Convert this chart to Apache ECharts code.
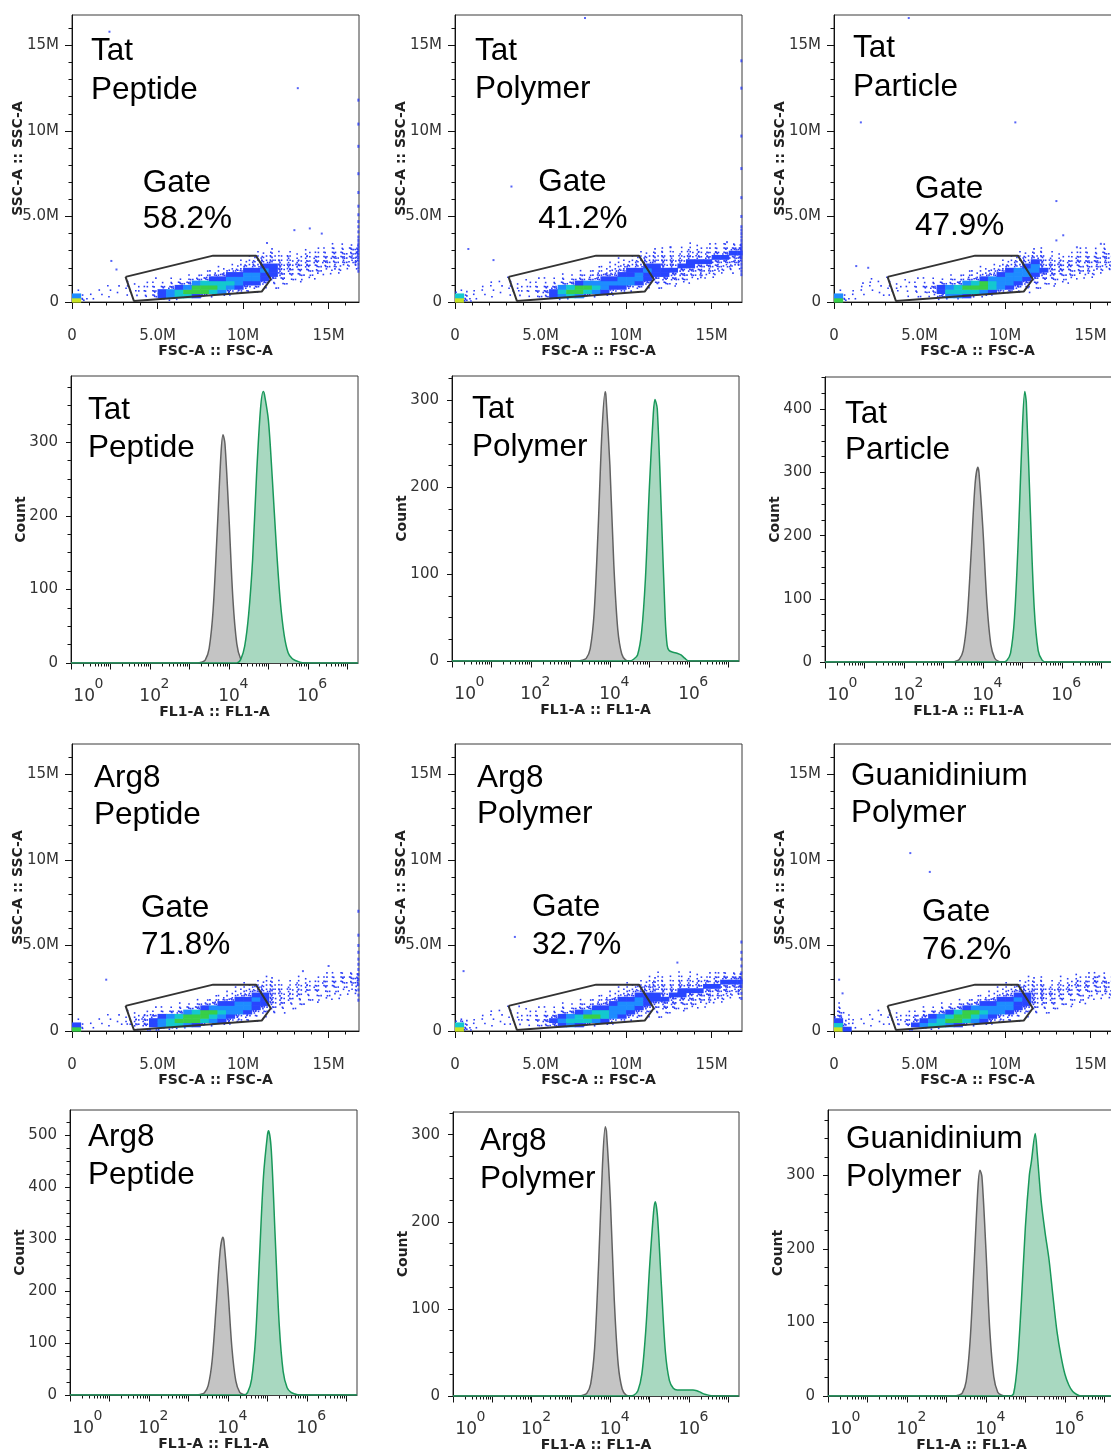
<!DOCTYPE html>
<html><head><meta charset="utf-8">
<script src="https://cdn.jsdelivr.net/npm/echarts@6/dist/echarts.min.js"></script>
<style>html,body{margin:0;padding:0;background:#fff}#c{width:1111px;height:1455px}</style>
</head><body><div id="c"></div>
<script>
// ================= DATA =================
// Scatter density cells: each string is one FSC-A column (0.5M wide, starting at 0),
// each digit is one SSC-A row (0.25M tall, from 0 upward). 0 = empty, 1-4 = sparse dots, 5-9 = dense (blue->yellow)
const densTatPeptide = [
"96100000000000","31000000000000","11000000000000","01100000000000","01110000000000","00110000000000",
"01121000000000","01211000000000","02221000000000","03321100000000","15531000000000","16642100000000",
"17753100000000","07864210000000","05886310000000","04887421000000","02787531000000","01677542100000",
"01467653100000","00356654210000","00245665321000","00135665432100","00024556543100","00012455543210",
"00012344432100","00001234433100","00001233432100","00000123433210","00000123343210","00000012343210",
"00000012334321","00000012234321","00000001234331","00000001233431"];
const densTatPolymer = [
"97200000000000","42100000000000","11100000000000","01110000000000","01111000000000","00111000000000",
"01121100000000","01221000000000","01221100000000","02321100000000","03431100000000","05542100000000",
"16763210000000","17874210000000","06885321000000","04786321000000","02676432100000","01566542100000",
"01356543210000","00256654321000","00146655321000","00035665432100","00024556543100","00013455543210",
"00013455443210","00012445443210","00001344543210","00001234554321","00000234454321","00000123454321",
"00000123445421","00000012345432","00000012344542","00000001234542"];
const densTatParticle = [
"86100000000000","31000000000000","11100000000000","01111000000000","00111100000000","01111000000000",
"01121100000000","00121000000000","01111100000000","01221100000000","01231100000000","02342100000000",
"14553100000000","16763210000000","16774210000000","05786321000000","03787421000000","02688532100000",
"01577643100000","00466654210000","00356665321000","00245666432100","00134566543100","00023456654210",
"00012345443210","00012344432100","00001234432100","00001233432100","00000123343210","00000123343210",
"00000122343210","00000012334321","00000012234321","00000012234321"];
const densArg8Peptide = [
"85100000000000","21000000000000","11000000000000","01100000000000","01110000000000","01110000000000",
"02211000000000","13321000000000","14431000000000","25541100000000","26652100000000","27763100000000",
"17874210000000","16886310000000","05887421000000","03788531000000","02678642100000","01567653100000",
"01456654210000","00346665321000","00235665432100","00124556543100","00013455543210","00002344443210",
"00001233332100","00000123332100","00000122333210","00000012233210","00000012233210","00000001223321",
"00000001223321","00000001122332","00000000122332","00000000122332"];
const densArg8Polymer = [
"97300000000000","42100000000000","11100000000000","01110000000000","01111000000000","01111000000000",
"01111100000000","01221100000000","01221100000000","02321100000000","03431100000000","04542100000000",
"05653210000000","06764210000000","05775321000000","04786421000000","02687532100000","01577543100000",
"01366654210000","00256665321000","00145665432100","00034566543100","00023455544210","00012345544321",
"00012445443210","00001344543210","00001234554321","00000234454321","00000123454321","00000123445421",
"00000012345432","00000012344542","00000001234542","00000001234542"];
const densGuanPolymer = [
"97543210000000","53211000000000","11100000000000","01100000000000","01110000000000","01111000000000",
"01121000000000","02221000000000","13321000000000","15431000000000","16542100000000","17653100000000",
"17764210000000","06875310000000","05887421000000","03788531000000","02678642100000","01567653100000",
"01456654210000","00346665321000","00235665432100","00124556543100","00013455543210","00002344443210",
"00001234443210","00001233432100","00000123343210","00000122343210","00000012334321","00000012234321",
"00000001233431","00000001233421","00000001223431","00000001223431"];

// isolated events [FSC-A (M), SSC-A (M)]
const outTatPeptide = [[2.19,15.8],[13.2,12.5],[13.0,4.2],[13.9,4.3],[14.6,4.0],[11.4,3.45],[2.3,2.4],[2.6,1.9]];
const outTatPolymer = [[0.78,3.1],[2.25,2.45],[3.3,6.75],[7.6,16.6],[12.6,3.2],[15.9,3.5]];
const outTatParticle = [[1.57,10.5],[10.6,10.5],[4.37,16.6],[13.0,5.9],[13.0,3.6],[13.4,3.9],[14.2,3.2],[15.6,3.4],[1.3,2.1],[2.0,2.0]];
const outArg8Peptide = [[2.0,3.0],[13.5,3.5],[15.0,3.8]];
const outArg8Polymer = [[0.5,3.5],[3.5,5.5],[13.0,4.0]];
const outGuanPolymer = [[4.46,10.4],[5.6,9.3],[0.3,3.0],[0.5,2.2],[15.5,3.2],[16.5,3.6]];
// saturated events piled on the right edge: SSC-A (M)
const edgeTatPeptide = [11.8,10.4,9.1,7.5,6.4,5.6,5.1,4.7,4.4,4.1,3.8,3.6,3.4,3.2,3.0,2.8,2.6,2.4,2.2,2.0,1.8];
const edgeTatPolymer = [14.1,12.5,9.7,7.8,6.1,5.0,4.4,4.2,4.0,3.8,3.6,3.4,3.2,3.0,2.8,2.6,2.4,2.2,2.0,1.8,1.6];
const edgeTatParticle = [];
const edgeArg8Peptide = [7.0,5.6,5.0,4.6,4.2,3.9,3.6,3.3,3.0,2.7,2.4,2.1,1.8];
const edgeArg8Polymer = [5.2,4.6,4.2,3.8,3.4,3.0,2.6,2.2,1.9];
const edgeGuanPolymer = [];

// gate polygon [FSC-A (M), SSC-A (M)]
const gateVertices = [[3.13,1.47],[8.25,2.71],[10.75,2.71],[11.62,1.33],[11.09,0.61],[3.62,0.06],[3.13,1.47]];
const gateLabels = ['58.2%','41.2%','47.9%','71.8%','32.7%','76.2%'];
const panelTitles = [['Tat','Peptide'],['Tat','Polymer'],['Tat','Particle'],['Arg8','Peptide'],['Arg8','Polymer'],['Guanidinium','Polymer']];

// histograms: [log10(FL1-A), count]
const ctrlTatPeptide = [[0,0],[3.2,0],[3.3,1],[3.4,4],[3.5,20],[3.6,72],[3.7,175],[3.8,285],[3.85,310],[3.9,298],[4.0,200],[4.1,88],[4.2,26],[4.3,5],[4.4,1],[4.5,0],[7.27,0]];
const fitcTatPeptide = [[0,0],[4.2,0],[4.3,5],[4.4,23],[4.5,66],[4.6,140],[4.7,255],[4.8,345],[4.87,369],[4.9,365],[5.0,330],[5.1,250],[5.2,160],[5.3,85],[5.4,38],[5.5,14],[5.6,6],[5.7,3],[5.8,1],[5.9,0],[7.27,0]];
const ctrlTatPolymer = [[0,0],[3.2,0],[3.3,1],[3.4,3],[3.5,14],[3.6,55],[3.7,150],[3.8,265],[3.88,310],[3.9,305],[4.0,225],[4.1,110],[4.2,36],[4.3,8],[4.4,1],[4.5,0],[7.27,0]];
const fitcTatPolymer = [[0,0],[4.5,0],[4.6,2],[4.7,7],[4.8,32],[4.9,95],[5.0,200],[5.1,285],[5.14,301],[5.2,290],[5.3,175],[5.4,50],[5.45,18],[5.5,12],[5.6,10],[5.7,9],[5.8,7],[5.9,3],[6.0,0],[7.27,0]];
const ctrlTatParticle = [[0,0],[3.2,0],[3.3,1],[3.4,4],[3.5,18],[3.6,68],[3.7,170],[3.8,280],[3.87,308],[3.9,300],[4.0,210],[4.1,95],[4.2,28],[4.3,6],[4.4,1],[4.5,0],[7.27,0]];
const fitcTatParticle = [[0,0],[4.5,0],[4.6,2],[4.7,14],[4.8,70],[4.9,200],[5.0,370],[5.06,428],[5.1,410],[5.2,240],[5.3,85],[5.4,18],[5.5,3],[5.6,0],[7.27,0]];
const ctrlArg8Peptide = [[0,0],[3.2,0],[3.3,1],[3.4,4],[3.5,18],[3.6,66],[3.7,168],[3.8,275],[3.87,304],[3.9,296],[4.0,205],[4.1,92],[4.2,27],[4.3,5],[4.4,1],[4.5,0],[7.27,0]];
const fitcArg8Peptide = [[0,0],[4.4,0],[4.5,5],[4.6,30],[4.7,110],[4.8,265],[4.9,420],[5.0,500],[5.03,509],[5.1,470],[5.2,300],[5.3,135],[5.4,45],[5.5,14],[5.6,5],[5.7,2],[5.8,0],[7.27,0]];
const ctrlArg8Polymer = [[0,0],[3.2,0],[3.3,1],[3.4,3],[3.5,14],[3.6,55],[3.7,150],[3.8,265],[3.87,309],[3.9,304],[4.0,225],[4.1,110],[4.2,36],[4.3,8],[4.4,1],[4.5,0],[7.27,0]];
const fitcArg8Polymer = [[0,0],[4.5,0],[4.6,1],[4.7,6],[4.8,25],[4.9,75],[5.0,150],[5.1,212],[5.14,223],[5.2,205],[5.3,125],[5.4,50],[5.5,18],[5.6,9],[5.7,7],[5.8,7],[5.9,7],[6.0,7],[6.1,7],[6.2,6],[6.3,4],[6.4,2],[6.5,1],[6.6,0],[7.27,0]];
const ctrlGuanPolymer = [[0,0],[3.2,0],[3.3,1],[3.4,4],[3.5,20],[3.6,75],[3.7,178],[3.8,285],[3.85,307],[3.9,298],[4.0,200],[4.1,88],[4.2,26],[4.3,5],[4.4,1],[4.5,0],[7.27,0]];
const fitcGuanPolymer = [[0,0],[4.6,0],[4.7,3],[4.8,45],[4.9,130],[5.0,230],[5.1,300],[5.15,318],[5.25,357],[5.3,330],[5.4,265],[5.5,222],[5.6,185],[5.7,135],[5.8,88],[5.9,55],[6.0,30],[6.1,15],[6.2,6],[6.3,2],[6.4,0],[7.27,0]];
const histYMax = [390, 328, 451, 549, 326, 389];

// axis tick values
const scatterMajorTicks = [0, 5e6, 10e6, 15e6];
const histDecades = [0,1,2,3,4,5,6,7];
const histLabelDecades = [0,2,4,6];

// ================= LAYOUT / RENDER =================
const FULL = 16777216, HMAX = 7.27, BX = 0.5e6, BY = 0.25e6, EDGE_X = 16.74e6;
const TXT = '#333', AXC = '#111', F = 'DejaVu Sans', TF = 'Liberation Sans', TS = 31.5, TDY = 2.5;
const scatterRects = [
  {left:72, top:15, width:287, height:287}, {left:455, top:15, width:287, height:287}, {left:834, top:15, width:287, height:287},
  {left:72, top:744, width:287, height:287}, {left:455, top:744, width:287, height:287}, {left:834, top:744, width:287, height:287}];
const histRects = [
  {left:71, top:376, width:287, height:287}, {left:452, top:376, width:287, height:285}, {left:825, top:377, width:287, height:285},
  {left:70, top:1110, width:287, height:285}, {left:453, top:1112, width:286, height:284}, {left:828, top:1110, width:287, height:286}];
const titlePos = [[91,49,87.5],[475,49,86.7],[853,46,84.5],[94,776,813],[477,776,812],[851,774,811]];
const histTitlePos = [[88,407.5,445.8],[472,407,445],[845,411.7,447.8],[88,1135.3,1173.3],[480,1138.8,1176.7],[846,1137,1175]];
const gatePos = [[142.7,180.8,216.7],[538.3,180.3,216.7],[915,187,224],[141,906,943],[532,905,943],[922,910,948]];

const densSets = [densTatPeptide, densTatPolymer, densTatParticle, densArg8Peptide, densArg8Polymer, densGuanPolymer];
const outSets = [outTatPeptide, outTatPolymer, outTatParticle, outArg8Peptide, outArg8Polymer, outGuanPolymer];
const edgeSets = [edgeTatPeptide, edgeTatPolymer, edgeTatParticle, edgeArg8Peptide, edgeArg8Polymer, edgeGuanPolymer];
const ctrlSets = [ctrlTatPeptide, ctrlTatPolymer, ctrlTatParticle, ctrlArg8Peptide, ctrlArg8Polymer, ctrlGuanPolymer];
const fitcSets = [fitcTatPeptide, fitcTatPolymer, fitcTatParticle, fitcArg8Peptide, fitcArg8Polymer, fitcGuanPolymer];

const grids = [], xAxes = [], yAxes = [], series = [], graphics = [];
function addGrid(r) {
  grids.push({left:r.left, top:r.top, width:r.width, height:r.height, show:true, borderColor:'#3a3a3a', borderWidth:1,
    backgroundColor:'#fff', containLabel:false, outerBoundsMode:'none'});
  return grids.length - 1;
}
function mainAxis(g, pos, min, max, ticks, labels, fmt, margin, tickLen) {
  return {type:'value', gridIndex:g, position:pos, min, max,
    axisLine:{show:true, onZero:false, lineStyle:{color:AXC, width:1}},
    axisTick:{show:true, inside:false, length:tickLen, customValues:ticks, lineStyle:{color:AXC, width:1}},
    axisLabel:{show:labels !== null, customValues:labels || [], formatter:fmt, margin, fontSize:15, fontFamily:F, color:TXT, showMinLabel:true, showMaxLabel:true, hideOverlap:false},
    splitLine:{show:false}, minorTick:{show:false}, minorSplitLine:{show:false}};
}
function minorAxis(g, pos, min, max, ticks) {
  return {type:'value', gridIndex:g, position:pos, min, max,
    axisLine:{show:false}, axisTick:{show:true, length:3.5, customValues:ticks, lineStyle:{color:AXC, width:1}},
    axisLabel:{show:false}, splitLine:{show:false}};
}
const fmtM = v => v === 0 ? '0' : (v === 5e6 ? '5.0M' : Math.round(v/1e6) + 'M');
const scatterMinor = []; for (let k = 1; k <= 16; k++) if (k % 5) scatterMinor.push(k*1e6);
const histMinor = []; histDecades.forEach(n => { for (let k = 2; k <= 9; k++) { const v = n + Math.log10(k); if (v < HMAX) histMinor.push(v); } });

const DOT_N = [0,1,2,4,6];
const DOT_POS = [[.18,.3],[.72,.78],[.5,.08],[.04,.86],[.88,.36],[.36,.62],[.62,.44],[.12,.02],[.95,.92],[.28,.95],[.8,.1],[.45,.3]];
const RAMP = {5:'#2845ff', 6:'#1e8cff', 7:'#14c8cf', 8:'#38cf48', 9:'#c8e422'};
const DOTC = '#2a3cf6';
function renderDensity(params, api) {
  const cx = api.value(0), cy = api.value(1), lv = api.value(2), ci = api.value(3), cj = api.value(4);
  const a = api.coord([cx - BX/2, cy - BY/2]);
  const b = api.coord([cx + BX/2, cy + BY/2]);
  const cs = params.coordSys;
  const x0 = a[0], x1 = Math.min(b[0], cs.x + cs.width);
  const yTop = b[1], yBot = a[1];
  const w = x1 - x0, h = yBot - yTop;
  if (w <= 0) return null;
  if (lv >= 5) return {type:'rect', shape:{x:x0, y:yTop, width:w + 0.6, height:h + 0.6}, style:{fill:RAMP[lv]}};
  const children = [];
  for (let k = 0; k < DOT_N[lv]; k++) {
    const p = DOT_POS[(ci*7 + cj*5 + k*5) % 12];
    children.push({type:'rect', shape:{x:x0 + p[0]*Math.max(w - 1.6, 0), y:yTop + p[1]*Math.max(h - 1.6, 0), width:1.6, height:1.6}, style:{fill:DOTC}});
  }
  return {type:'group', children};
}
function text(x, y, t, size, font, extra) {
  graphics.push(Object.assign({type:'text', x, y, z:100, style:{text:t, fontSize:size, fontFamily:font, fill:'#000',
    align:'left', textAlign:'left', verticalAlign:'middle', textVerticalAlign:'middle'}}, extra || {}));
}
function axisTitle(x, y, t, rot) {
  graphics.push({type:'text', x, y, rotation: rot ? Math.PI/2 : 0, z:100,
    style:{text:t, fontSize:14, fontWeight:'bold', fontFamily:F, fill:'#222', align:'center', textAlign:'center', verticalAlign:'middle', textVerticalAlign:'middle'}});
}

// scatter panels
scatterRects.forEach((r, p) => {
  const g = addGrid(r);
  const xi = xAxes.length, yi = yAxes.length;
  xAxes.push(mainAxis(g, 'bottom', 0, FULL, scatterMajorTicks, scatterMajorTicks, fmtM, 27, 7));
  xAxes.push(minorAxis(g, 'bottom', 0, FULL, scatterMinor));
  yAxes.push(mainAxis(g, 'left', 0, FULL, scatterMajorTicks, scatterMajorTicks, fmtM, 13, 7));
  yAxes.push(minorAxis(g, 'left', 0, FULL, scatterMinor));
  const cells = [];
  densSets[p].forEach((s, i) => { for (let j = 0; j < s.length; j++) { const lv = +s[j]; if (lv) cells.push([i*BX + BX/2, j*BY + BY/2, lv, i, j]); } });
  series.push({type:'custom', xAxisIndex:xi, yAxisIndex:yi, renderItem:renderDensity, data:cells, encode:{x:0, y:1}, z:2, silent:true});
  series.push({type:'scatter', xAxisIndex:xi, yAxisIndex:yi, symbol:'rect', symbolSize:2, itemStyle:{color:DOTC}, z:3, silent:true,
    data: outSets[p].map(d => [d[0]*1e6, d[1]*1e6])});
  series.push({type:'scatter', xAxisIndex:xi, yAxisIndex:yi, symbol:'rect', symbolSize:[2,3], itemStyle:{color:DOTC}, z:3, silent:true,
    data: edgeSets[p].map(y => [EDGE_X, y*1e6])});
  series.push({type:'line', xAxisIndex:xi, yAxisIndex:yi, symbol:'none', lineStyle:{color:'#333', width:2}, z:5, silent:true,
    data: gateVertices.map(d => [d[0]*1e6, d[1]*1e6])});
  const tp = titlePos[p];
  text(tp[0], tp[1] + TDY, panelTitles[p][0], TS, TF);
  text(tp[0], tp[2] + TDY, panelTitles[p][1], TS, TF);
  const gp = gatePos[p];
  text(gp[0], gp[1] + TDY, 'Gate', TS, TF);
  text(gp[0], gp[2] + TDY, gateLabels[p], TS, TF);
  const visRight = Math.min(r.left + r.width, 1121);
  axisTitle((r.left + visRight)/2, r.top + r.height + 49, 'FSC-A :: FSC-A', false);
  axisTitle(r.left - 54, r.top + r.height/2, 'SSC-A :: SSC-A', true);
});

// histogram panels
const histXIdx = [];
histRects.forEach((r, p) => {
  const g = addGrid(r);
  const xi = xAxes.length, yi = yAxes.length;
  histXIdx.push(xi);
  const ymax = histYMax[p];
  const yMajor = [], yMinor = [];
  for (let v = 0; v <= ymax; v += 25) { if (v % 100 === 0) yMajor.push(v); else yMinor.push(v); }
  xAxes.push(mainAxis(g, 'bottom', 0, HMAX, histDecades, null, null, 14, 6.5));
  xAxes.push(minorAxis(g, 'bottom', 0, HMAX, histMinor));
  yAxes.push(mainAxis(g, 'left', 0, ymax, yMajor, yMajor, v => String(v), 13, 5));
  yAxes.push(minorAxis(g, 'left', 0, ymax, yMinor));
  series.push({type:'line', xAxisIndex:xi, yAxisIndex:yi, data:ctrlSets[p], symbol:'none', smooth:0.3, silent:true, z:2,
    lineStyle:{color:'#626262', width:1.5}, areaStyle:{color:'#c4c4c4', opacity:1}});
  series.push({type:'line', xAxisIndex:xi, yAxisIndex:yi, data:fitcSets[p], symbol:'none', smooth:0.3, silent:true, z:3,
    lineStyle:{color:'#19985a', width:1.5}, areaStyle:{color:'#a8d8c0', opacity:1}});
  const tp = histTitlePos[p];
  text(tp[0], tp[1] + TDY, panelTitles[p][0], TS, TF);
  text(tp[0], tp[2] + TDY, panelTitles[p][1], TS, TF);
  axisTitle(r.left + r.width/2, r.top + r.height + 49, 'FL1-A :: FL1-A', false);
  axisTitle(r.left - 50, r.top + r.height/2, 'Count', true);
});

const chart = echarts.init(document.getElementById('c'), null, {renderer:'canvas', width:1111, height:1455});
const baseOption = {animation:false, backgroundColor:'#fff', grid:grids, xAxis:xAxes, yAxis:yAxes, series};
chart.setOption(Object.assign({}, baseOption, {graphic:graphics}));

// decade labels 10^n placed through the axis scale
const labelGraphics = [];
histRects.forEach((r, p) => {
  const axisY = r.top + r.height;
  histLabelDecades.forEach(n => {
    const px = chart.convertToPixel({xAxisIndex: histXIdx[p]}, n);
    const shift = n === 0 ? 13 : 0;
    labelGraphics.push({type:'text', x: px + 11 + shift, y: axisY + 33.5, z:100,
      style:{text:'10', fontSize:17, fontFamily:F, fill:TXT, align:'right', textAlign:'right', verticalAlign:'middle', textVerticalAlign:'middle'}});
    labelGraphics.push({type:'text', x: px + 10.5 + shift, y: axisY + 21.5, z:100,
      style:{text:String(n), fontSize:14, fontFamily:F, fill:TXT, align:'left', textAlign:'left', verticalAlign:'middle', textVerticalAlign:'middle'}});
  });
});
chart.setOption({graphic: graphics.concat(labelGraphics)});
</script></body></html>
